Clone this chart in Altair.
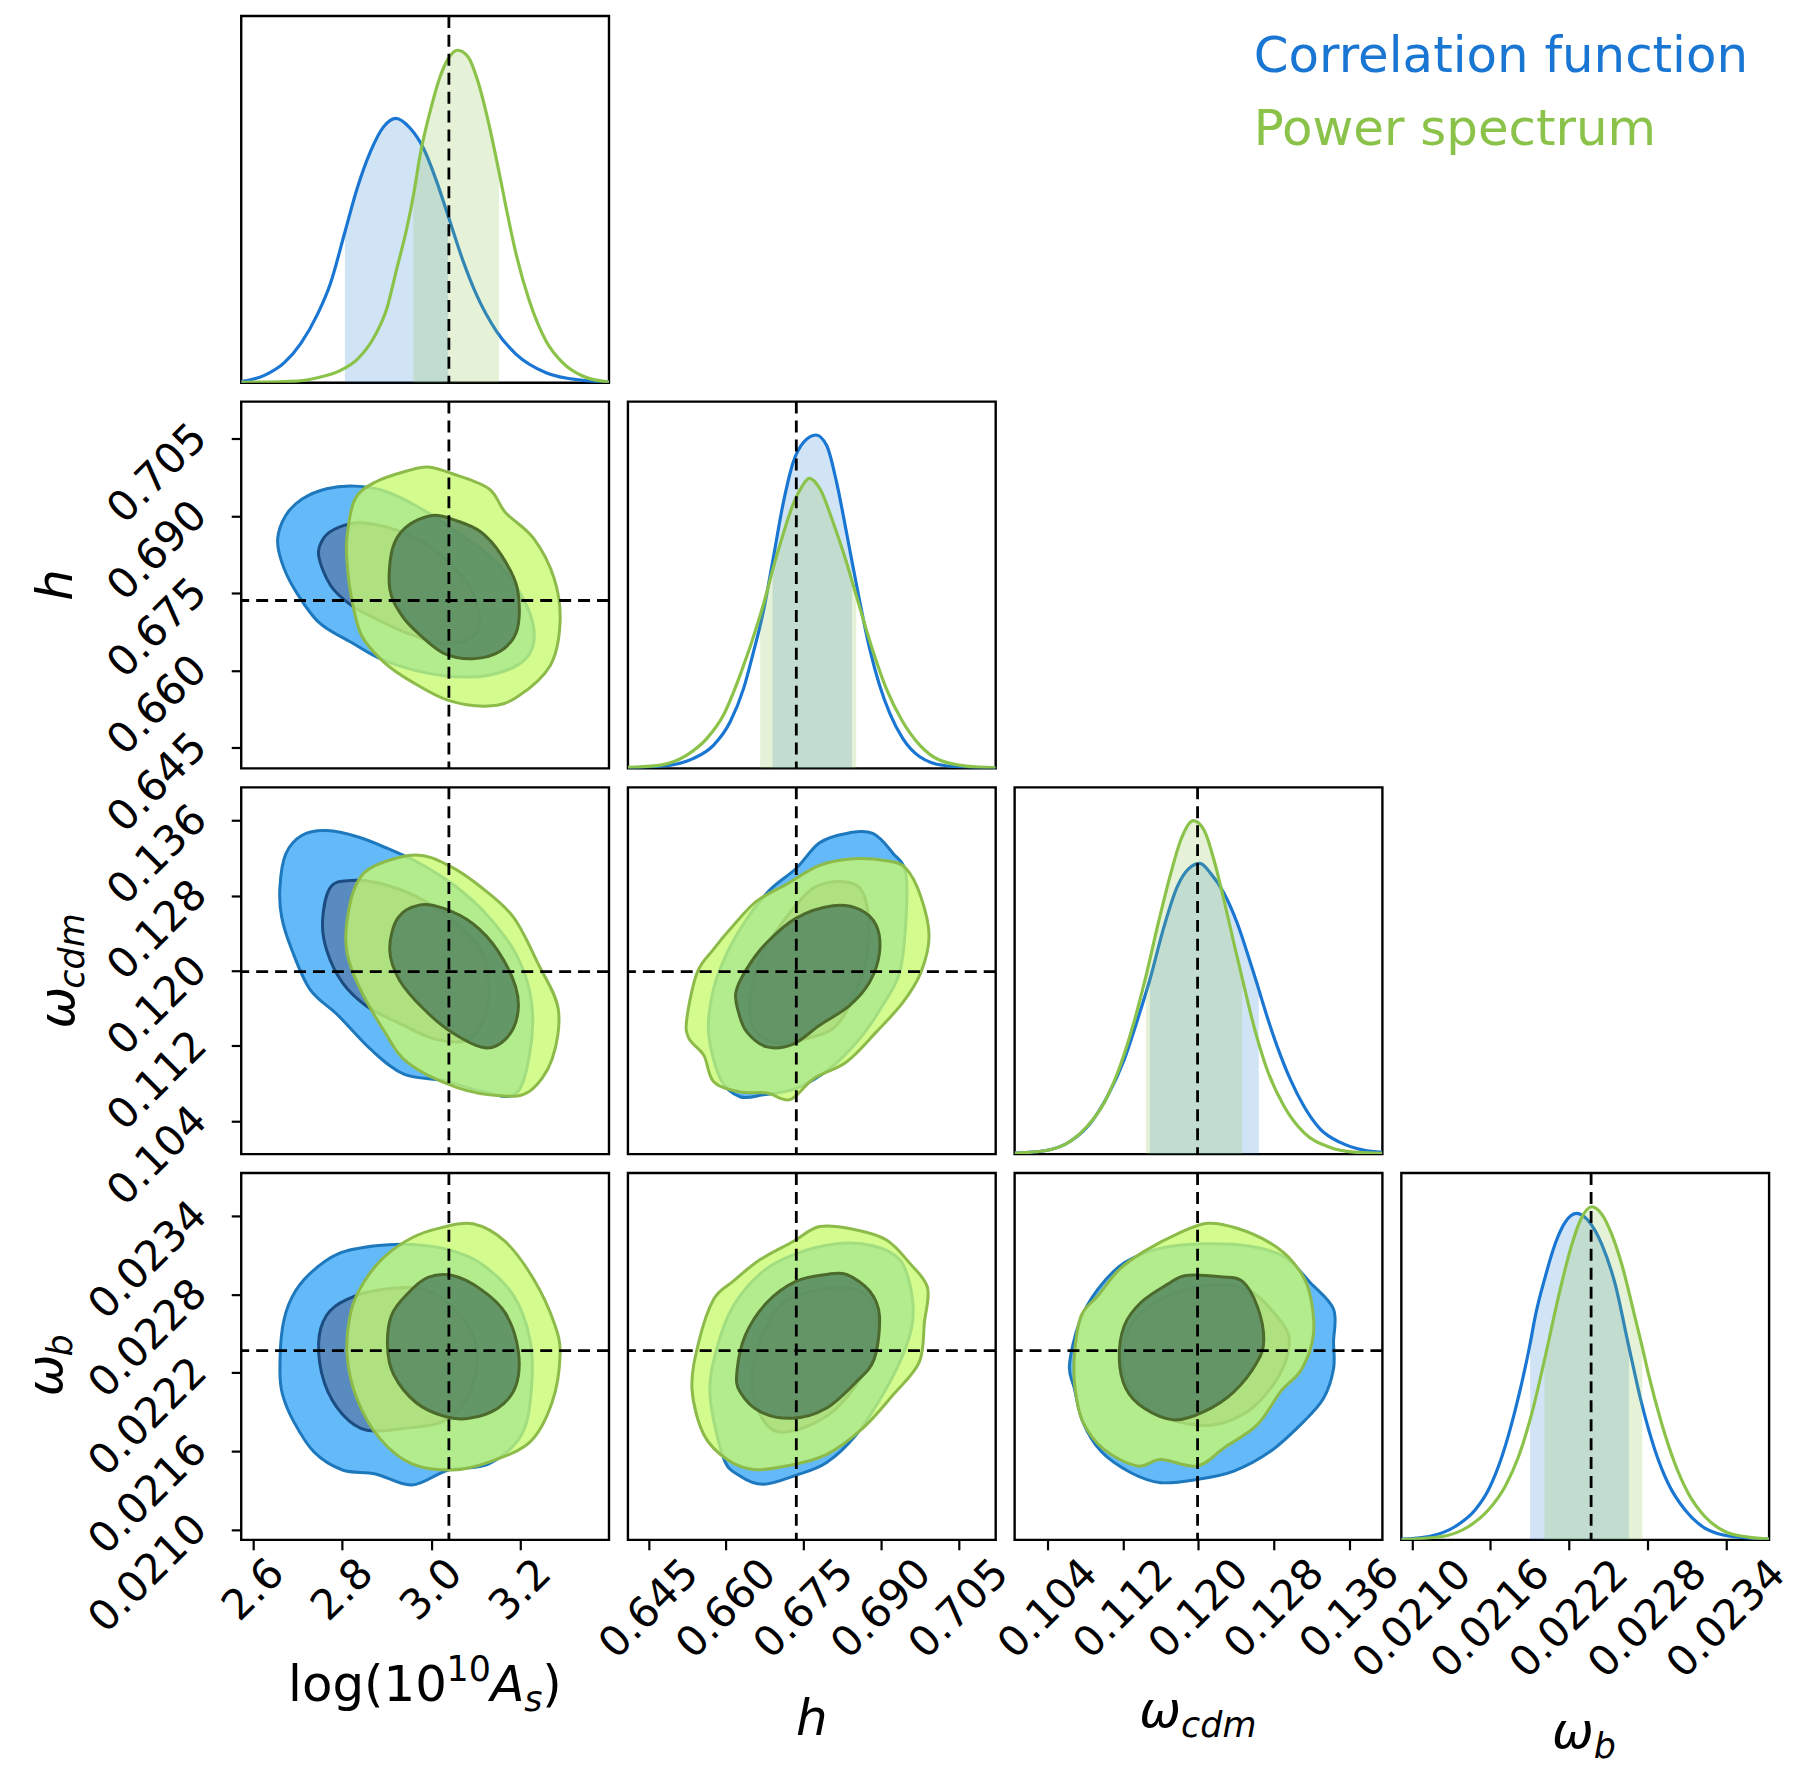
import altair as alt
import pandas as pd

# ---------------- axis ranges, ticks and reference values ----------------
AS_RANGE = [2.573, 3.400]
H_RANGE = [0.641, 0.7122]
OMC_RANGE = [0.1005, 0.1395]
OMB_RANGE = [0.02092, 0.02373]

AS_TICKS = [2.6, 2.8, 3.0, 3.2]
H_TICKS = [0.645, 0.660, 0.675, 0.690, 0.705]
OMC_TICKS = [0.104, 0.112, 0.120, 0.128, 0.136]
OMB_TICKS = [0.0210, 0.0216, 0.0222, 0.0228, 0.0234]

TRUTH_AS = 3.040
TRUTH_H = 0.6736
TRUTH_OMC = 0.1199
TRUTH_OMB = 0.02237

LEGEND_LABELS = ["Correlation function", "Power spectrum"]

# ---------------- 1D marginals (normalised density) ----------------
AS_CF_X = [2.573, 2.6252, 2.6699, 2.7071, 2.7444, 2.7742, 2.8062, 2.8338, 2.8636, 2.8934, 2.9209,
           2.9530, 2.9828, 3.0126, 3.0386, 3.0722, 3.1020, 3.1467, 3.1914, 3.2584, 3.3404, 3.400]
AS_CF_Y = [0.003, 0.022, 0.060, 0.118, 0.205, 0.300, 0.452, 0.583, 0.693, 0.768, 0.793,
           0.763, 0.703, 0.603, 0.499, 0.364, 0.264, 0.155, 0.085, 0.030, 0.007, 0.002]
AS_CF_BAND = [2.8062, 3.0386]
AS_PS_X = [2.573, 2.6997, 2.7518, 2.7965, 2.8338, 2.8710, 2.9008, 2.9232, 2.9455, 2.9604, 2.9753, 2.9977,
           3.0200, 3.0386, 3.0595, 3.0833, 3.1057, 3.1280, 3.1526, 3.1690, 3.1914, 3.2212, 3.2584,
           3.2957, 3.3404, 3.400]
AS_PS_Y = [0.001, 0.005, 0.017, 0.037, 0.070, 0.135, 0.224, 0.344, 0.464, 0.563, 0.683, 0.813,
           0.917, 0.972, 0.997, 0.977, 0.902, 0.787, 0.633, 0.523, 0.384, 0.244, 0.125,
           0.060, 0.020, 0.002]
AS_PS_BAND = [2.9604, 3.1526]

H_CF_X = [0.6410, 0.6492, 0.6537, 0.6576, 0.6608, 0.6634, 0.6653, 0.6672, 0.6690, 0.6711, 0.6730, 0.6750,
          0.6774, 0.6795, 0.6814, 0.6833, 0.6844, 0.6859, 0.6878, 0.6897, 0.6917, 0.6942, 0.6975, 0.7026, 0.7122]
H_CF_Y = [0.002, 0.010, 0.030, 0.070, 0.140, 0.240, 0.349, 0.469, 0.619, 0.798, 0.918, 0.978,
          1.000, 0.968, 0.858, 0.709, 0.619, 0.499, 0.359, 0.250, 0.165, 0.090, 0.035, 0.008, 0.001]
H_CF_BAND = [0.6690, 0.6844]
H_PS_X = [0.6410, 0.6473, 0.6524, 0.6563, 0.6595, 0.6627, 0.6666, 0.6679, 0.6690, 0.6704, 0.6730, 0.6746,
          0.6761, 0.6782, 0.6807, 0.6833, 0.6852, 0.6885, 0.6910, 0.6942, 0.6975, 0.7013, 0.7065, 0.7122]
H_PS_Y = [0.003, 0.010, 0.040, 0.090, 0.160, 0.279, 0.459, 0.529, 0.594, 0.669, 0.793, 0.843,
          0.870, 0.838, 0.739, 0.619, 0.519, 0.349, 0.240, 0.140, 0.070, 0.025, 0.007, 0.002]
H_PS_BAND = [0.6666, 0.6852]

OMC_CF_X = [0.10050, 0.10367, 0.10649, 0.10860, 0.11036, 0.11213, 0.11354, 0.11484, 0.11635, 0.11776,
            0.11900, 0.12016, 0.12129, 0.12269, 0.12410, 0.12551, 0.12639, 0.12692, 0.12833, 0.12974,
            0.13115, 0.13291, 0.13503, 0.13749, 0.13950]
OMC_CF_Y = [0.003, 0.010, 0.040, 0.095, 0.174, 0.284, 0.404, 0.523, 0.683, 0.803,
            0.857, 0.872, 0.842, 0.783, 0.693, 0.573, 0.494, 0.444, 0.324, 0.224,
            0.145, 0.075, 0.035, 0.012, 0.005]
OMC_CF_BAND = [0.11484, 0.12639]
OMC_PS_X = [0.10050, 0.10367, 0.10649, 0.10825, 0.11001, 0.11142, 0.11283, 0.11442, 0.11565, 0.11706,
            0.11812, 0.11945, 0.12058, 0.12164, 0.12269, 0.12375, 0.12463, 0.12587, 0.12727, 0.12904,
            0.13115, 0.13397, 0.13679, 0.13950]
OMC_PS_Y = [0.003, 0.010, 0.040, 0.085, 0.155, 0.244, 0.364, 0.533, 0.683, 0.842,
            0.942, 1.000, 0.972, 0.882, 0.763, 0.633, 0.528, 0.384, 0.254, 0.145,
            0.065, 0.020, 0.005, 0.002]
OMC_PS_BAND = [0.11442, 0.12463]

OMB_CF_X = [0.020920, 0.021129, 0.021332, 0.021485, 0.021586, 0.021688, 0.021790, 0.021904, 0.021942,
            0.022019, 0.022095, 0.022171, 0.022260, 0.022349, 0.022451, 0.022553, 0.022659, 0.022756,
            0.022858, 0.022959, 0.023087, 0.023239, 0.023443, 0.023730]
OMB_CF_Y = [0.002, 0.010, 0.040, 0.090, 0.150, 0.249, 0.389, 0.588, 0.668,
            0.788, 0.887, 0.952, 0.979, 0.957, 0.887, 0.768, 0.578, 0.409,
            0.269, 0.169, 0.090, 0.035, 0.010, 0.002]
OMB_CF_BAND = [0.021904, 0.022659]
OMB_PS_X = [0.020920, 0.021230, 0.021434, 0.021586, 0.021713, 0.021815, 0.021917, 0.022013, 0.022120,
            0.022209, 0.022286, 0.022375, 0.022451, 0.022527, 0.022603, 0.022705, 0.022761, 0.022807,
            0.022909, 0.023010, 0.023112, 0.023239, 0.023392, 0.023570, 0.023730]
OMB_PS_Y = [0.001, 0.010, 0.040, 0.090, 0.160, 0.249, 0.379, 0.538, 0.728,
            0.867, 0.957, 0.999, 0.977, 0.917, 0.828, 0.668, 0.578, 0.499,
            0.349, 0.229, 0.140, 0.070, 0.025, 0.008, 0.002]
OMB_PS_BAND = [0.022013, 0.022761]

# ---------------- 2D credible contours (x, y) ----------------
AS_H_CF_OUTER = [(2.655, 0.6856), (2.673, 0.6901), (2.710, 0.6933), (2.765, 0.6953), (2.829, 0.6958),
                 (2.893, 0.6949), (2.966, 0.6920), (3.048, 0.6875), (3.130, 0.6824), (3.194, 0.6759),
                 (3.231, 0.6681), (3.213, 0.6623), (3.130, 0.6591), (3.021, 0.6591), (2.902, 0.6617),
                 (2.820, 0.6655), (2.747, 0.6694), (2.692, 0.6759), (2.664, 0.6811)]
AS_H_CF_INNER = [(2.747, 0.6824), (2.760, 0.6859), (2.792, 0.6878), (2.838, 0.6887), (2.902, 0.6878),
                 (2.975, 0.6853), (3.039, 0.6811), (3.085, 0.6765), (3.108, 0.6707), (3.094, 0.6665),
                 (3.030, 0.6652), (2.948, 0.6672), (2.875, 0.6701), (2.820, 0.6727), (2.774, 0.6765)]
AS_H_PS_OUTER = [(2.811, 0.6862), (2.829, 0.6933), (2.875, 0.6966), (2.948, 0.6988), (2.993, 0.6995),
                 (3.048, 0.6982), (3.130, 0.6953), (3.167, 0.6907), (3.231, 0.6856), (3.277, 0.6778),
                 (3.290, 0.6694), (3.268, 0.6610), (3.194, 0.6549), (3.130, 0.6531), (3.039, 0.6542),
                 (2.957, 0.6578), (2.893, 0.6617), (2.843, 0.6669), (2.820, 0.6746), (2.811, 0.6811)]
AS_H_PS_INNER = [(2.907, 0.6759), (2.913, 0.6836), (2.943, 0.6878), (3.002, 0.6901), (3.057, 0.6891),
                 (3.112, 0.6869), (3.158, 0.6824), (3.194, 0.6759), (3.194, 0.6681), (3.158, 0.6639),
                 (3.094, 0.6623), (3.030, 0.6633), (2.975, 0.6669), (2.934, 0.6707)]

AS_OMC_CF_OUTER = [(2.660, 0.1289), (2.673, 0.1324), (2.710, 0.1344), (2.765, 0.1349), (2.838, 0.1342),
                   (2.902, 0.1330), (2.975, 0.1314), (3.057, 0.1289), (3.130, 0.1257), (3.194, 0.1215),
                   (3.226, 0.1166), (3.222, 0.1113), (3.190, 0.1069), (3.112, 0.1072), (3.030, 0.1083),
                   (2.939, 0.1090), (2.865, 0.1116), (2.792, 0.1152), (2.728, 0.1180), (2.687, 0.1222),
                   (2.664, 0.1257)]
AS_OMC_CF_INNER = [(2.756, 0.1254), (2.774, 0.1289), (2.820, 0.1296), (2.884, 0.1293), (2.966, 0.1279),
                   (3.048, 0.1254), (3.112, 0.1222), (3.130, 0.1187), (3.121, 0.1152), (3.085, 0.1127),
                   (3.012, 0.1127), (2.929, 0.1144), (2.856, 0.1162), (2.801, 0.1187), (2.765, 0.1222)]
AS_OMC_PS_OUTER = [(2.811, 0.1254), (2.833, 0.1293), (2.875, 0.1312), (2.966, 0.1323), (3.039, 0.1312),
                   (3.112, 0.1289), (3.185, 0.1257), (3.240, 0.1208), (3.286, 0.1159), (3.272, 0.1106),
                   (3.222, 0.1072), (3.158, 0.1067), (3.057, 0.1076), (2.948, 0.1102), (2.893, 0.1137),
                   (2.838, 0.1183), (2.811, 0.1219)]
AS_OMC_PS_INNER = [(2.907, 0.1222), (2.925, 0.1256), (2.975, 0.1270), (3.030, 0.1266), (3.094, 0.1250),
                   (3.149, 0.1222), (3.190, 0.1183), (3.194, 0.1152), (3.167, 0.1127), (3.121, 0.1118),
                   (3.048, 0.1134), (2.984, 0.1159), (2.929, 0.1190)]

AS_OMB_CF_OUTER = [(2.660, 0.022215), (2.666, 0.022550), (2.687, 0.022778), (2.728, 0.022961),
                   (2.792, 0.023113), (2.875, 0.023173), (2.957, 0.023183), (3.039, 0.023143),
                   (3.112, 0.023037), (3.185, 0.022793), (3.222, 0.022459), (3.226, 0.022094),
                   (3.204, 0.021729), (3.130, 0.021501), (3.039, 0.021455), (2.957, 0.021340),
                   (2.875, 0.021425), (2.801, 0.021455), (2.737, 0.021592), (2.692, 0.021820),
                   (2.666, 0.022033)]
AS_OMB_CF_INNER = [(2.747, 0.022428), (2.765, 0.022641), (2.811, 0.022763), (2.893, 0.022839),
                   (2.984, 0.022839), (3.048, 0.022702), (3.094, 0.022489), (3.103, 0.022246),
                   (3.076, 0.021972), (3.021, 0.021820), (2.939, 0.021774), (2.856, 0.021759),
                   (2.801, 0.021881), (2.760, 0.022124)]
AS_OMB_PS_OUTER = [(2.811, 0.022337), (2.820, 0.022672), (2.847, 0.022884), (2.893, 0.023082),
                   (2.957, 0.023234), (3.021, 0.023310), (3.094, 0.023341), (3.167, 0.023204),
                   (3.231, 0.022915), (3.277, 0.022580), (3.290, 0.022337), (3.272, 0.021972),
                   (3.222, 0.021668), (3.130, 0.021516), (3.048, 0.021455), (2.957, 0.021501),
                   (2.884, 0.021699), (2.833, 0.022003)]
AS_OMB_PS_INNER = [(2.902, 0.022398), (2.911, 0.022641), (2.948, 0.022809), (2.993, 0.022930),
                   (3.048, 0.022945), (3.112, 0.022839), (3.167, 0.022657), (3.196, 0.022368),
                   (3.190, 0.022094), (3.149, 0.021927), (3.085, 0.021851), (3.030, 0.021866),
                   (2.966, 0.021972), (2.916, 0.022185)]

H_OMC_CF_OUTER = [(0.6566, 0.1135), (0.6576, 0.1181), (0.6602, 0.1219), (0.6640, 0.1255), (0.6685, 0.1286),
                  (0.6736, 0.1309), (0.6781, 0.1336), (0.6833, 0.1346), (0.6884, 0.1346), (0.6923, 0.1325),
                  (0.6948, 0.1304), (0.6948, 0.1251), (0.6936, 0.1198), (0.6903, 0.1163), (0.6859, 0.1128),
                  (0.6801, 0.1096), (0.6736, 0.1075), (0.6672, 0.1068), (0.6627, 0.1066), (0.6589, 0.1085)]
H_OMC_CF_INNER = [(0.6646, 0.1156), (0.6653, 0.1191), (0.6679, 0.1226), (0.6724, 0.1262), (0.6769, 0.1288),
                  (0.6820, 0.1295), (0.6859, 0.1288), (0.6875, 0.1262), (0.6875, 0.1226), (0.6859, 0.1188),
                  (0.6814, 0.1142), (0.6756, 0.1128), (0.6698, 0.1124), (0.6659, 0.1135)]
H_OMC_PS_OUTER = [(0.6524, 0.1149), (0.6544, 0.1198), (0.6576, 0.1223), (0.6614, 0.1248), (0.6659, 0.1274),
                  (0.6717, 0.1292), (0.6781, 0.1312), (0.6846, 0.1319), (0.6910, 0.1317), (0.6948, 0.1309),
                  (0.6977, 0.1279), (0.6993, 0.1237), (0.6977, 0.1198), (0.6942, 0.1166), (0.6891, 0.1135),
                  (0.6833, 0.1103), (0.6769, 0.1085), (0.6724, 0.1063), (0.6679, 0.1070), (0.6627, 0.1071),
                  (0.6576, 0.1082), (0.6557, 0.1110), (0.6528, 0.1128)]
H_OMC_PS_INNER = [(0.6619, 0.1177), (0.6640, 0.1202), (0.6679, 0.1230), (0.6736, 0.1256), (0.6807, 0.1269),
                  (0.6859, 0.1265), (0.6891, 0.1248), (0.6897, 0.1219), (0.6878, 0.1188), (0.6839, 0.1163),
                  (0.6781, 0.1142), (0.6730, 0.1122), (0.6679, 0.1119), (0.6640, 0.1135), (0.6624, 0.1156)]

H_OMB_CF_OUTER = [(0.6569, 0.022029), (0.6582, 0.022383), (0.6614, 0.022712), (0.6672, 0.022978),
                  (0.6736, 0.023112), (0.6814, 0.023188), (0.6884, 0.023173), (0.6936, 0.023067),
                  (0.6958, 0.022839), (0.6961, 0.022586), (0.6942, 0.022333), (0.6903, 0.022029),
                  (0.6852, 0.021725), (0.6794, 0.021510), (0.6736, 0.021416), (0.6672, 0.021345),
                  (0.6627, 0.021409), (0.6595, 0.021548)]
H_OMB_CF_INNER = [(0.6650, 0.022105), (0.6659, 0.022358), (0.6698, 0.022687), (0.6756, 0.022814),
                  (0.6820, 0.022852), (0.6865, 0.022814), (0.6891, 0.022636), (0.6891, 0.022383),
                  (0.6865, 0.022181), (0.6814, 0.021928), (0.6756, 0.021788), (0.6698, 0.021750),
                  (0.6666, 0.021877)]
H_OMB_PS_OUTER = [(0.6534, 0.022079), (0.6547, 0.022434), (0.6576, 0.022763), (0.6614, 0.022902),
                  (0.6666, 0.023067), (0.6730, 0.023206), (0.6781, 0.023320), (0.6846, 0.023300),
                  (0.6910, 0.023219), (0.6955, 0.023042), (0.6990, 0.022852), (0.6984, 0.022586),
                  (0.6974, 0.022282), (0.6923, 0.022029), (0.6865, 0.021776), (0.6794, 0.021573),
                  (0.6717, 0.021485), (0.6653, 0.021459), (0.6602, 0.021535), (0.6557, 0.021725)]
H_OMB_PS_INNER = [(0.6621, 0.022206), (0.6637, 0.022485), (0.6679, 0.022738), (0.6736, 0.022902),
                  (0.6794, 0.022953), (0.6833, 0.022953), (0.6878, 0.022826), (0.6897, 0.022636),
                  (0.6887, 0.022307), (0.6852, 0.022130), (0.6794, 0.021928), (0.6730, 0.021852),
                  (0.6666, 0.021902), (0.6627, 0.022054)]

OMC_OMB_CF_OUTER = [(0.10631, 0.022257), (0.10737, 0.022586), (0.10931, 0.022839), (0.11213, 0.023042),
                    (0.11600, 0.023155), (0.12058, 0.023188), (0.12516, 0.023173), (0.12904, 0.023092),
                    (0.13186, 0.022890), (0.13432, 0.022687), (0.13432, 0.022434), (0.13432, 0.022231),
                    (0.13326, 0.022004), (0.13115, 0.021826), (0.12763, 0.021598), (0.12375, 0.021447),
                    (0.11988, 0.021383), (0.11600, 0.021358), (0.11283, 0.021434), (0.10966, 0.021598),
                    (0.10772, 0.021826), (0.10684, 0.022079)]
OMC_OMB_CF_INNER = [(0.11195, 0.022282), (0.11266, 0.022535), (0.11459, 0.022700), (0.11812, 0.022826),
                    (0.12199, 0.022877), (0.12551, 0.022826), (0.12798, 0.022662), (0.12957, 0.022485),
                    (0.12921, 0.022282), (0.12763, 0.022079), (0.12516, 0.021902), (0.12164, 0.021801),
                    (0.11776, 0.021826), (0.11459, 0.021928), (0.11266, 0.022079)]
OMC_OMB_PS_OUTER = [(0.10684, 0.022333), (0.10755, 0.022636), (0.10931, 0.022788), (0.11160, 0.022991),
                    (0.11424, 0.023130), (0.11776, 0.023264), (0.12093, 0.023345), (0.12410, 0.023307),
                    (0.12763, 0.023193), (0.13009, 0.023042), (0.13168, 0.022839), (0.13221, 0.022510),
                    (0.13097, 0.022231), (0.12869, 0.022054), (0.12622, 0.021801), (0.12270, 0.021624),
                    (0.11988, 0.021485), (0.11600, 0.021535), (0.11353, 0.021485), (0.11001, 0.021611),
                    (0.10772, 0.021826), (0.10691, 0.022079)]
OMC_OMB_PS_INNER = [(0.11160, 0.022307), (0.11213, 0.022560), (0.11389, 0.022738), (0.11670, 0.022877),
                    (0.11867, 0.022945), (0.12234, 0.022935), (0.12463, 0.022902), (0.12622, 0.022712),
                    (0.12692, 0.022459), (0.12622, 0.022282), (0.12375, 0.022054), (0.12058, 0.021902),
                    (0.11741, 0.021839), (0.11424, 0.021928), (0.11230, 0.022079)]

# ---------------- styling ----------------
FONT = "DejaVu Sans"
W, H = 369, 368
LABEL_SIZE = 42
TITLE_SIZE = 50
SUB_SIZE = 35
LEGEND_SIZE = 50

BLUE = "#1976D2"
GREEN = "#8BC34A"
CF_OUTER_FILL, CF_OUTER_EDGE = "#64B9F8", "#1D78BD"
CF_INNER_FILL, CF_INNER_EDGE = "#5A8BBF", "#1B4D82"
PS_OUTER_FILL, PS_OUTER_EDGE = "#C8FA6E", "#8DBB4A"
PS_INNER_FILL, PS_INNER_EDGE = "#50825F", "#4B6A2C"

RANGE = {"As": AS_RANGE, "h": H_RANGE, "omc": OMC_RANGE, "omb": OMB_RANGE}
TICKS = {"As": AS_TICKS, "h": H_TICKS, "omc": OMC_TICKS, "omb": OMB_TICKS}
TRUTH = {"As": TRUTH_AS, "h": TRUTH_H, "omc": TRUTH_OMC, "omb": TRUTH_OMB}
FMT = {"As": ".1f", "h": ".3f", "omc": ".3f", "omb": ".4f"}
XPAD = {"As": 40, "h": 59, "omc": 59, "omb": 69}
YPAD = 32


def x_axis(p):
    return alt.Axis(values=TICKS[p], format=FMT[p], labelAngle=315, labelAlign="center",
                    labelBaseline="middle", labelPadding=XPAD[p], labelFont=FONT,
                    labelFontSize=LABEL_SIZE, labelColor="black", labelOverlap=False,
                    labelFlush=False, labelBound=False, tickSize=10, tickWidth=2.2,
                    tickColor="black", domain=False, grid=False, title=None)


def y_axis(p):
    return alt.Axis(values=TICKS[p], format=FMT[p], labelAngle=315, labelAlign="right",
                    labelBaseline="middle", labelPadding=YPAD, labelOffset=-8, labelFont=FONT,
                    labelFontSize=LABEL_SIZE, labelColor="black", labelOverlap=False,
                    labelFlush=False, labelBound=False, tickSize=10, tickWidth=2.2,
                    tickColor="black", domain=False, grid=False, title=None)


def xenc(p, show):
    return alt.X("x:Q", scale=alt.Scale(domain=RANGE[p], nice=False, zero=False),
                 axis=x_axis(p) if show else None)


def yenc(p, show):
    return alt.Y("y:Q", scale=alt.Scale(domain=RANGE[p], nice=False, zero=False),
                 axis=y_axis(p) if show else None)


def dens_enc():
    return alt.Y("y:Q", scale=alt.Scale(domain=[0, 1.1], nice=False, zero=False), axis=None)


def text(t, x, y, size, italic=False, angle=0, align="left", baseline="alphabetic", color="black"):
    kw = dict(text=t, font=FONT, fontSize=size, align=align, baseline=baseline, color=color)
    if italic:
        kw["fontStyle"] = "italic"
    if angle:
        kw["angle"] = angle
    return alt.Chart(pd.DataFrame({"k": [0]})).mark_text(**kw).encode(
        x=alt.value(x), y=alt.value(y))


DASH = dict(color="black", strokeWidth=2.8, strokeDash=[12, 7])


def vrule(p, xs):
    return alt.Chart(pd.DataFrame({"x": [TRUTH[p]]})).mark_rule(**DASH).encode(x=xs)


def hrule(p, ys):
    return alt.Chart(pd.DataFrame({"y": [TRUTH[p]]})).mark_rule(**DASH).encode(y=ys)


def curve(xs, ys, band, p, color, show_x, band_op):
    df = pd.DataFrame({"x": xs, "y": ys})
    base = alt.Chart(df).encode(x=xenc(p, show_x), y=dens_enc())
    area = base.transform_filter(
        (alt.datum.x >= band[0]) & (alt.datum.x <= band[1])
    ).mark_area(color=color, opacity=band_op, interpolate="monotone", clip=True)
    line = base.mark_line(color=color, strokeWidth=3.2, interpolate="monotone", clip=True)
    return area, line


def contour(pts, px, py, sx, sy, fill, fill_op, edge):
    df = pd.DataFrame({"x": [a for a, b in pts], "y": [b for a, b in pts],
                       "i": list(range(len(pts)))})
    return alt.Chart(df).mark_line(
        interpolate="cardinal-closed", fill=fill, fillOpacity=fill_op, stroke=edge,
        strokeWidth=3.0, clip=True
    ).encode(x=xenc(px, sx), y=yenc(py, sy), order=alt.Order("i:Q"))


def panel_1d(p, cf, ps, show_x, extra=()):
    a1, l1 = curve(cf[0], cf[1], cf[2], p, BLUE, show_x, 0.2)
    a2, l2 = curve(ps[0], ps[1], ps[2], p, GREEN, show_x, 0.22)
    rule = vrule(p, xenc(p, show_x))
    return alt.layer(a1, l1, a2, l2, rule, *extra).properties(width=W, height=H)


def panel_2d(px, py, conts, sx, sy, extra=()):
    cfo, cfi, pso, psi = conts
    layers = [
        contour(cfo, px, py, sx, sy, CF_OUTER_FILL, 1.0, CF_OUTER_EDGE),
        contour(cfi, px, py, sx, sy, CF_INNER_FILL, 1.0, CF_INNER_EDGE),
        contour(pso, px, py, sx, sy, PS_OUTER_FILL, 0.78, PS_OUTER_EDGE),
        contour(psi, px, py, sx, sy, PS_INNER_FILL, 0.8, PS_INNER_EDGE),
        vrule(px, xenc(px, sx)),
        hrule(py, yenc(py, sy)),
    ]
    return alt.layer(*layers, *extra).properties(width=W, height=H)


def blank():
    return alt.Chart(pd.DataFrame({"x": [0.0], "y": [0.0]})).mark_point(opacity=0).encode(
        x=alt.X("x:Q", axis=None), y=alt.Y("y:Q", axis=None)
    ).properties(width=W, height=H, view=alt.ViewBackground(strokeOpacity=0))


# ---- titles built from text pieces (sub/superscripts) ----
def ytitle_h():
    return [text("h", -170, H / 2, TITLE_SIZE, italic=True, angle=270, align="center")]


def ytitle_omc():
    return [text("ω", -168, H / 2 + 58, TITLE_SIZE, italic=True, angle=270),
            text("cdm", -158, H / 2 + 18, SUB_SIZE, italic=True, angle=270)]


def ytitle_omb():
    return [text("ω", -180, H / 2 + 40, TITLE_SIZE, italic=True, angle=270),
            text("b", -170, H / 2, SUB_SIZE, italic=True, angle=270)]


def xtitle_as():
    yb = H + 162
    return [text("log(10", 47, yb, TITLE_SIZE),
            text("10", 206, yb - 20, SUB_SIZE),
            text("A", 250, yb, TITLE_SIZE, italic=True),
            text("s", 284, yb + 10, SUB_SIZE, italic=True),
            text(")", 302, yb, TITLE_SIZE)]


def xtitle_h():
    return [text("h", W / 2, H + 196, TITLE_SIZE, italic=True, align="center")]


def xtitle_omc():
    yb = H + 188
    return [text("ω", 167, yb, TITLE_SIZE, italic=True, align="right"),
            text("cdm", 167, yb + 10, SUB_SIZE, italic=True)]


def xtitle_omb():
    yb = H + 209
    return [text("ω", 193, yb, TITLE_SIZE, italic=True, align="right"),
            text("b", 193, yb + 10, SUB_SIZE, italic=True)]


legend = [text(LEGEND_LABELS[0], 1016, 56, LEGEND_SIZE, color=BLUE),
          text(LEGEND_LABELS[1], 1016, 130, LEGEND_SIZE, color=GREEN)]

cells = [
    panel_1d("As", (AS_CF_X, AS_CF_Y, AS_CF_BAND), (AS_PS_X, AS_PS_Y, AS_PS_BAND), False, legend),
    blank(), blank(), blank(),
    panel_2d("As", "h", (AS_H_CF_OUTER, AS_H_CF_INNER, AS_H_PS_OUTER, AS_H_PS_INNER), False, True,
             ytitle_h()),
    panel_1d("h", (H_CF_X, H_CF_Y, H_CF_BAND), (H_PS_X, H_PS_Y, H_PS_BAND), False),
    blank(), blank(),
    panel_2d("As", "omc", (AS_OMC_CF_OUTER, AS_OMC_CF_INNER, AS_OMC_PS_OUTER, AS_OMC_PS_INNER),
             False, True, ytitle_omc()),
    panel_2d("h", "omc", (H_OMC_CF_OUTER, H_OMC_CF_INNER, H_OMC_PS_OUTER, H_OMC_PS_INNER),
             False, False),
    panel_1d("omc", (OMC_CF_X, OMC_CF_Y, OMC_CF_BAND), (OMC_PS_X, OMC_PS_Y, OMC_PS_BAND), False),
    blank(),
    panel_2d("As", "omb", (AS_OMB_CF_OUTER, AS_OMB_CF_INNER, AS_OMB_PS_OUTER, AS_OMB_PS_INNER),
             True, True, ytitle_omb() + xtitle_as()),
    panel_2d("h", "omb", (H_OMB_CF_OUTER, H_OMB_CF_INNER, H_OMB_PS_OUTER, H_OMB_PS_INNER),
             True, False, xtitle_h()),
    panel_2d("omc", "omb", (OMC_OMB_CF_OUTER, OMC_OMB_CF_INNER, OMC_OMB_PS_OUTER, OMC_OMB_PS_INNER),
             True, False, xtitle_omc()),
    panel_1d("omb", (OMB_CF_X, OMB_CF_Y, OMB_CF_BAND), (OMB_PS_X, OMB_PS_Y, OMB_PS_BAND), True,
             xtitle_omb()),
]

chart = alt.concat(*cells, columns=4, spacing=19, bounds="flush").properties(
    padding={"left": 12, "top": 2, "right": 5, "bottom": 5}
).configure_view(stroke="black", strokeWidth=2.4)

chart.save("out.html", embed_options={"renderer": "svg", "actions": False})
